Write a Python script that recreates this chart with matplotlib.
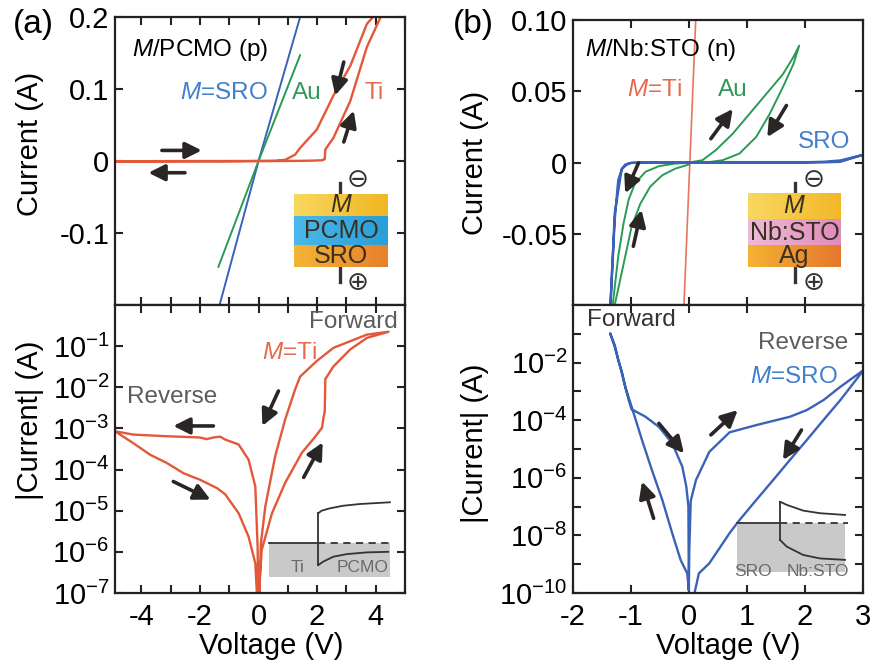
import numpy as np
import matplotlib
matplotlib.use("Agg")
import matplotlib.pyplot as plt
from matplotlib import colors as mcolors
from matplotlib.patches import Rectangle
from matplotlib.ticker import MultipleLocator, NullLocator, FuncFormatter

plt.rcParams.update({
    "font.family": ["Liberation Sans", "DejaVu Sans"],
    "mathtext.fontset": "custom",
    "mathtext.rm": "Liberation Sans",
    "mathtext.it": "Liberation Sans:italic",
    "mathtext.bf": "Liberation Sans:bold",
    "axes.unicode_minus": False,
    "lines.solid_joinstyle": "round",
})

# ---------------------------------------------------------------
# (a) M/PCMO (p-type) junctions
# ---------------------------------------------------------------
sro_a_v = [-1.33, 0.0, 1.42]
sro_a_i = [-0.20, 0.0, 0.20]
au_a_v = [-1.37, 0.0, 1.42]
au_a_i = [-0.147, 0.0, 0.147]

# Ti/PCMO sweep 0 -> +4.4 -> 0 -> -4.9 -> 0, stored as log10|I|
ti_v = [0.005, 0.03, 0.11, 0.46, 0.91, 1.48, 1.88, 2.17, 2.22, 2.26, 2.28, 2.56, 3.13, 3.70, 4.44,
        3.70, 3.13, 2.56, 1.99, 1.42, 1.25, 0.91, 0.57, 0.23, 0.08, 0.01,
        -0.01, -0.03, -0.11, -0.34, -0.68, -1.14, -1.31, -1.54, -1.77, -2.0, -3.13, -4.27, -4.90,
        -4.27, -3.70, -3.13, -2.56, -1.99, -1.42, -1.14, -0.68, -0.34, -0.11, -0.02]
ti_logi = [-8.0, -6.8, -5.95, -5.06, -4.32, -3.59, -3.25, -2.98, -2.72, -2.60, -1.80, -1.49, -1.08, -0.80, -0.65,
           -0.72, -0.88, -1.04, -1.36, -1.74, -2.05, -2.78, -3.67, -4.90, -5.8, -7.5,
           -7.5, -5.9, -4.41, -3.76, -3.39, -3.27, -3.20, -3.22, -3.26, -3.22, -3.19, -3.15, -3.07,
           -3.36, -3.64, -3.84, -4.09, -4.25, -4.45, -4.60, -5.06, -5.63, -6.28, -7.5]

# ---------------------------------------------------------------
# (b) M/Nb:STO (n-type) junctions
# ---------------------------------------------------------------
ti_b_v = [-0.087, 0.116]
ti_b_i = [-0.10, 0.10]

au_b_v = [0.0, 0.23, 0.46, 0.75, 1.04, 1.33, 1.62, 1.80, 1.90,
          1.80, 1.62, 1.39, 1.16, 0.87, 0.58, 0.29, 0.0,
          -0.23, -0.52, -0.75, -0.93, -1.04, -1.13, -1.22, -1.31, -1.36,
          -1.27, -1.10, -0.99, -0.84, -0.67, -0.46, -0.23, 0.0]
au_b_i = [0.0, 0.0016, 0.0086, 0.020, 0.034, 0.048, 0.062, 0.074, 0.082,
          0.069, 0.053, 0.034, 0.018, 0.0063, 0.0016, 0.0, -0.0003,
          -0.0007, -0.0026, -0.0065, -0.0146, -0.026, -0.043, -0.066, -0.098, -0.125,
          -0.098, -0.066, -0.045, -0.029, -0.017, -0.0089, -0.0042, -0.0014]

# SRO/Nb:STO sweep 0 -> -1.36 -> 0 -> +3 -> 0, stored as log10|I|
sro_b_v = [-0.003, -0.03, -0.087, -0.145, -0.29, -0.46, -0.64, -0.81, -0.99, -1.10, -1.16, -1.22, -1.28, -1.36,
           -1.28, -1.16, -1.04, -0.99, -0.75, -0.52, -0.29, -0.116, -0.046, -0.01, -0.003,
           0.005, 0.03, 0.12, 0.35, 0.70, 1.16, 1.74, 2.03, 2.32, 2.61, 3.01,
           2.61, 2.32, 2.03, 1.74, 1.45, 1.16, 0.87, 0.70, 0.35, 0.17, 0.12, 0.06]
sro_b_logi = [-9.9, -9.32, -9.09, -8.85, -7.92, -6.77, -5.73, -4.69, -3.53, -2.84, -2.30, -1.91, -1.40, -0.98,
              -1.45, -2.35, -3.30, -3.62, -3.88, -4.23, -4.80, -5.61, -6.31, -7.0, -9.9,
              -8.5, -6.8, -6.08, -5.10, -4.42, -4.17, -3.88, -3.65, -3.30, -2.84, -2.26,
              -3.30, -3.99, -4.69, -5.38, -6.08, -6.77, -7.47, -7.92, -8.97, -9.32, -9.78, -10.3]

ti_i = np.sign(ti_v) * 10.0 ** np.array(ti_logi)
sro_b_i = np.sign(sro_b_v) * 10.0 ** np.array(sro_b_logi)

RED = "#e4583a"
BLUE = "#3a62b8"
GREEN = "#2a9a55"
ARROW = "#2a2626"
GREYTXT = "#5c5c5c"
TXT = 17.5

W, H = 871, 668
fig = plt.figure(figsize=(W / 100, H / 100), dpi=100)


def px_axes(left, top, width, height):
    return fig.add_axes([left / W, 1 - (top + height) / H, width / W, height / H])


ax_a1 = px_axes(115, 17, 290, 288)
ax_a2 = px_axes(115, 305, 290, 288)
ax_b1 = px_axes(573, 20, 290, 285)
ax_b2 = px_axes(573, 305, 290, 288)

for ax in (ax_a1, ax_a2, ax_b1, ax_b2):
    ax.tick_params(which="both", direction="in", top=True, right=True,
                   length=6, width=1.5, labelsize=21, color="#222222")
    ax.tick_params(axis="x", pad=7)
    ax.tick_params(axis="y", pad=4)
    for s in ax.spines.values():
        s.set_linewidth(1.6)
        s.set_color("#222222")


def arrow(ax, tail, head):
    ax.annotate("", xy=head, xytext=tail,
                arrowprops=dict(arrowstyle="-|>,head_length=0.7,head_width=0.35",
                                lw=2.6, color=ARROW, shrinkA=0, shrinkB=0,
                                mutation_scale=14))


# ---- (a) top: linear ----
ax = ax_a1
ax.plot(sro_a_v, sro_a_i, color=BLUE, lw=1.4)
ax.plot(au_a_v, au_a_i, color=GREEN, lw=1.4)
ax.plot(ti_v, ti_i, color=RED, lw=1.7)
ax.set_xlim(-4.9, 5.0)
ax.set_ylim(-0.2, 0.2)
ax.xaxis.set_major_locator(MultipleLocator(1))
ax.tick_params(axis="x", labelbottom=False)
ax.set_yticks([-0.1, 0, 0.1, 0.2], ["-0.1", "0", "0.1", "0.2"])
ax.set_ylabel("Current (A)", fontsize=21)
ax.yaxis.set_label_coords(-0.245, 0.56)
ax.text(0.059, 0.885, r"$\mathit{M}$/PCMO (p)", transform=ax.transAxes, fontsize=TXT, va="center")
ax.text(0.528, 0.736, r"$\mathit{M}$=SRO", transform=ax.transAxes, fontsize=TXT,
        va="center", ha="right", color="#3f7fcc")
ax.text(0.610, 0.736, "Au", transform=ax.transAxes, fontsize=TXT, va="center", color="#2f9a5c")
ax.text(0.862, 0.736, "Ti", transform=ax.transAxes, fontsize=TXT, va="center", color="#e66a4e")
arrow(ax, (-3.30, 0.0147), (-1.94, 0.0147))
arrow(ax, (-2.51, -0.0163), (-3.76, -0.0163))
arrow(ax, (2.91, 0.1375), (2.62, 0.091))
arrow(ax, (2.91, 0.0264), (3.25, 0.070))

# ---- (a) bottom: log ----
ax = ax_a2
ax.plot(ti_v, np.abs(ti_i), color=RED, lw=1.7)
ax.set_yscale("log")
ax.set_xlim(-4.9, 5.0)
ax.set_ylim(1e-7, 1e0)
ax.set_yticks([10.0 ** k for k in range(-7, 0)])
ax.yaxis.set_minor_locator(NullLocator())
ax.set_xticks([-4, -2, 0, 2, 4], ["-4", "-2", "0", "2", "4"])
ax.xaxis.set_minor_locator(MultipleLocator(1))
ax.set_ylabel("|Current| (A)", fontsize=21)
ax.yaxis.set_label_coords(-0.245, 0.60)
ax.set_xlabel("Voltage (V)", fontsize=21)
ax.xaxis.set_label_coords(0.538, -0.135)
ax.text(0.976, 0.941, "Forward", transform=ax.transAxes, fontsize=TXT, va="center",
        ha="right", color=GREYTXT)
ax.text(0.507, 0.833, r"$\mathit{M}$=Ti", transform=ax.transAxes, fontsize=TXT, va="center",
        color="#e66a4e")
ax.text(0.041, 0.681, "Reverse", transform=ax.transAxes, fontsize=TXT, va="center", color=GREYTXT)
arrow(ax, (-1.54, 10 ** -2.94), (-2.91, 10 ** -2.94))
arrow(ax, (-2.91, 10 ** -4.29), (-1.64, 10 ** -4.73))
arrow(ax, (0.68, 10 ** -2.09), (0.13, 10 ** -2.94))
arrow(ax, (1.54, 10 ** -4.19), (2.19, 10 ** -3.34))

# ---- (b) top: linear ----
ax = ax_b1
ax.plot(ti_b_v, ti_b_i, color="#e8765e", lw=1.2)
ax.plot(au_b_v, au_b_i, color=GREEN, lw=1.4)
ax.plot(sro_b_v, sro_b_i, color=BLUE, lw=1.7)
ax.set_xlim(-2, 3)
ax.set_ylim(-0.1, 0.1)
ax.xaxis.set_major_locator(MultipleLocator(1))
ax.tick_params(axis="x", labelbottom=False)
ax.set_yticks([-0.05, 0, 0.05, 0.10], ["-0.05", "0", "0.05", "0.10"])
ax.set_ylabel("Current (A)", fontsize=21)
ax.yaxis.set_label_coords(-0.29, 0.5)
ax.text(0.041, 0.895, r"$\mathit{M}$/Nb:STO (n)", transform=ax.transAxes, fontsize=TXT, va="center")
ax.text(0.186, 0.754, r"$\mathit{M}$=Ti", transform=ax.transAxes, fontsize=TXT, va="center",
        color="#e66a4e")
ax.text(0.50, 0.754, "Au", transform=ax.transAxes, fontsize=TXT, va="center", color="#2f9a5c")
ax.text(0.776, 0.572, "SRO", transform=ax.transAxes, fontsize=TXT, va="center", color="#3f7fcc")
arrow(ax, (0.377, 0.0167), (0.754, 0.0376))
arrow(ax, (1.68, 0.040), (1.35, 0.0178))
arrow(ax, (-0.87, -0.0003), (-1.10, -0.0216))
arrow(ax, (-0.96, -0.0588), (-0.82, -0.0332))

# ---- (b) bottom: log ----
ax = ax_b2
ax.plot(sro_b_v, np.abs(sro_b_i), color=BLUE, lw=1.7)
ax.set_yscale("log")
ax.set_xlim(-2, 3)
ax.set_ylim(1e-10, 1e0)
ax.set_yticks([10.0 ** k for k in range(-10, 0)])
ax.yaxis.set_minor_locator(NullLocator())
ax.yaxis.set_major_formatter(FuncFormatter(
    lambda y, _: r"$\mathdefault{10^{%d}}$" % round(np.log10(y)) if round(np.log10(y)) % 2 == 0 else ""))
ax.set_xticks([-2, -1, 0, 1, 2, 3], ["-2", "-1", "0", "1", "2", "3"])
ax.set_ylabel("|Current| (A)", fontsize=21)
ax.yaxis.set_label_coords(-0.29, 0.52)
ax.set_xlabel("Voltage (V)", fontsize=21)
ax.xaxis.set_label_coords(0.534, -0.135)
ax.text(0.048, 0.948, "Forward", transform=ax.transAxes, fontsize=TXT, va="center", color="#333333")
ax.text(0.948, 0.868, "Reverse", transform=ax.transAxes, fontsize=TXT, va="center",
        ha="right", color=GREYTXT)
ax.text(0.914, 0.75, r"$\mathit{M}$=SRO", transform=ax.transAxes, fontsize=TXT, va="center",
        ha="right", color="#3f7fcc")
arrow(ax, (-0.61, 10 ** -7.41), (-0.81, 10 ** -6.13))
arrow(ax, (-0.52, 10 ** -4.11), (-0.087, 10 ** -5.15))
arrow(ax, (0.377, 10 ** -4.51), (0.84, 10 ** -3.65))
arrow(ax, (1.94, 10 ** -4.34), (1.62, 10 ** -5.38))


# ---- layer-stack sketches ----
def layer_stack(x0, y0, x1, y1, layers):
    iax = fig.add_axes([x0 / W, 1 - y1 / H, (x1 - x0) / W, (y1 - y0) / H])
    iax.set_xlim(0, 1)
    iax.axis("off")
    g = np.linspace(0, 1, 64)[:, None]
    top = y1 - y0
    for name, h, c_left, c_right in layers:
        cl = np.array(mcolors.to_rgb(c_left))
        cr = np.array(mcolors.to_rgb(c_right))
        img = (cl * (1 - g) + cr * g)[None, :, :]
        iax.imshow(img, extent=[0, 1, top - h, top], aspect="auto", interpolation="bilinear")
        iax.text(0.5, top - h / 2, name, ha="center", va="center", fontsize=18, color="#3a3020")
        top -= h
    iax.set_xlim(0, 1)
    iax.set_ylim(0, y1 - y0)


def polarity(ax, x, y_top, y_bot, xs, ys_minus, ys_plus, y_lo_top, y_hi_bot):
    ax.plot([x, x], [y_top, y_lo_top], transform=ax.transAxes, color="#333333", lw=2.4, clip_on=False)
    ax.plot([x, x], [y_hi_bot, y_bot], transform=ax.transAxes, color="#333333", lw=2.4, clip_on=False)
    ax.text(xs, ys_minus, "\u2296", transform=ax.transAxes, fontsize=19, ha="center", va="center",
            family="DejaVu Sans", color="#333333")
    ax.text(xs, ys_plus, "\u2295", transform=ax.transAxes, fontsize=19, ha="center", va="center",
            family="DejaVu Sans", color="#333333")


layer_stack(294, 194, 388, 267, [(r"$\mathit{M}$", 22, "#f8d75e", "#f1b623"),
                                 ("PCMO", 29, "#4ab8ea", "#2a9ed8"),
                                 ("SRO", 22, "#f3b535", "#e8802c")])
polarity(ax_a1, 0.776, 0.424, 0.080, 0.838, 0.434, 0.076, 0.385, 0.132)

layer_stack(748, 193, 841, 267, [(r"$\mathit{M}$", 27, "#f8d860", "#f2b828"),
                                 ("Nb:STO", 25, "#efbad6", "#e08cbc"),
                                 ("Ag", 22, "#f4b232", "#e6782c")])
polarity(ax_b1, 0.766, 0.428, 0.081, 0.831, 0.439, 0.077, 0.393, 0.133)


# ---- band-diagram sketches ----
def band(ax, rect, x_if, y_f, up_x, up_y, lo_x, lo_y, labels):
    rx0, rx1, ry0, ry1 = rect
    ax.add_patch(Rectangle((rx0, ry0), rx1 - rx0, ry1 - ry0, transform=ax.transAxes,
                           facecolor="#c9c9c9", edgecolor="none", zorder=3))
    kw = dict(transform=ax.transAxes, color="#333333", lw=1.3, zorder=4)
    ax.plot([rx0, x_if], [y_f, y_f], **kw)
    ax.plot([x_if, rx1 + 0.01], [y_f, y_f], ls=(0, (4, 3)), **kw)
    ax.plot([x_if, x_if], [lo_y[0], up_y[0]], **kw)
    ax.plot(up_x, up_y, **kw)
    ax.plot(lo_x, lo_y, **kw)
    for txt, lx, ly in labels:
        ax.text(lx, ly, txt, transform=ax.transAxes, fontsize=12.5, ha="center", va="center",
                color="#6a6a6a", zorder=5)


band(ax_a2, (0.532, 0.949, 0.054, 0.172), 0.701, 0.172,
     [0.701, 0.713, 0.741, 0.787, 0.845, 0.948], [0.277, 0.286, 0.294, 0.303, 0.309, 0.315],
     [0.701, 0.718, 0.753, 0.799, 0.868, 0.942], [0.097, 0.109, 0.126, 0.135, 0.141, 0.143],
     [("Ti", 0.631, 0.087), ("PCMO", 0.855, 0.087)])
band(ax_b2, (0.564, 0.938, 0.074, 0.242), 0.714, 0.242,
     [0.714, 0.737, 0.794, 0.852, 0.938], [0.317, 0.306, 0.286, 0.277, 0.271],
     [0.714, 0.737, 0.794, 0.852, 0.938], [0.184, 0.161, 0.132, 0.120, 0.115],
     [("SRO", 0.621, 0.073), ("Nb:STO", 0.845, 0.073)])

fig.text(13 / W, 1 - 24 / H, "(a)", fontsize=24, va="center", ha="left")
fig.text(453 / W, 1 - 24 / H, "(b)", fontsize=24, va="center", ha="left")

fig.savefig("out.png", dpi=100)
